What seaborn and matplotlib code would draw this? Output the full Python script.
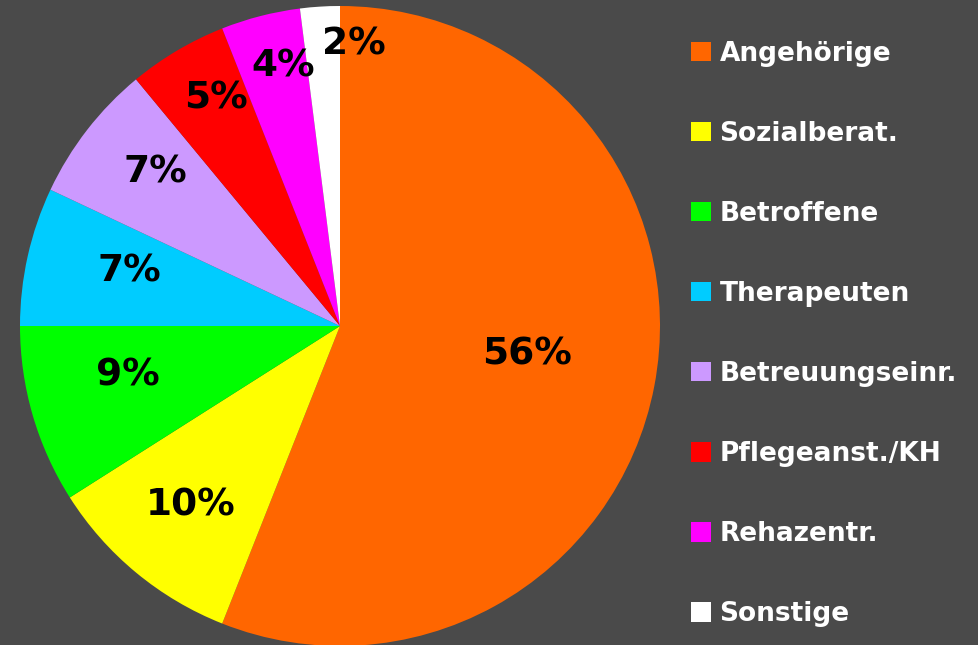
import numpy as np
import seaborn as sns
import matplotlib.pyplot as plt

# Anteile der Anfragen nach Gruppe (in %)
gruppen = ['Angehörige', 'Sozialberat.', 'Betroffene', 'Therapeuten',
           'Betreuungseinr.', 'Pflegeanst./KH', 'Rehazentr.', 'Sonstige']
anteile = [56, 10, 9, 7, 7, 5, 4, 2]
farben = ['#FF6600', '#FFFF00', '#00FF00', '#00CCFF',
          '#CC99FF', '#FF0000', '#FF00FF', '#FFFFFF']

# Lage der Prozentzahlen (Radius-Anteil, Winkelversatz in Grad)
label_r = [0.59, 0.73, 0.68, 0.68, 0.75, 0.81, 0.83, 0.88]
label_dw = [2, 0, -3, -2, -2, -2, -2, -6.5]

bg = '#4a4a4a'
sns.set_theme(style='dark', rc={'figure.facecolor': bg, 'axes.facecolor': bg})
plt.rcParams['font.family'] = ['DejaVu Sans']

fig = plt.figure(figsize=(9.79, 6.45), dpi=100)
ax = fig.add_axes([20 / 979, -1 / 645, 640 / 979, 640 / 645])
ax.set_facecolor(bg)

pal = sns.color_palette(farben)
wedges, texts, autotexts = ax.pie(anteile, colors=pal, startangle=90, counterclock=False,
                                  autopct='%.0f%%', radius=1,
                                  wedgeprops=dict(linewidth=0, edgecolor='none'),
                                  textprops=dict(color='black', fontsize=27, fontweight='bold'))
for w, t, r, dw in zip(wedges, autotexts, label_r, label_dw):
    mid = np.deg2rad((w.theta1 + w.theta2) / 2 + dw)
    t.set_position((r * np.cos(mid), r * np.sin(mid)))

ax.set_xlim(-1, 1)
ax.set_ylim(-1, 1)
ax.set_aspect('equal')
ax.axis('off')

leg = fig.legend(wedges, gruppen, loc='upper left', bbox_to_anchor=(680 / 979, 1 - 30 / 645),
                 frameon=False, handlelength=0.76, handleheight=0.76, handletextpad=0.34,
                 labelspacing=2.05, borderaxespad=0,
                 prop=dict(family='DejaVu Sans', weight='bold', size=19))
for txt in leg.get_texts():
    txt.set_color('white')

plt.savefig('out.png', dpi=100, facecolor=bg)
